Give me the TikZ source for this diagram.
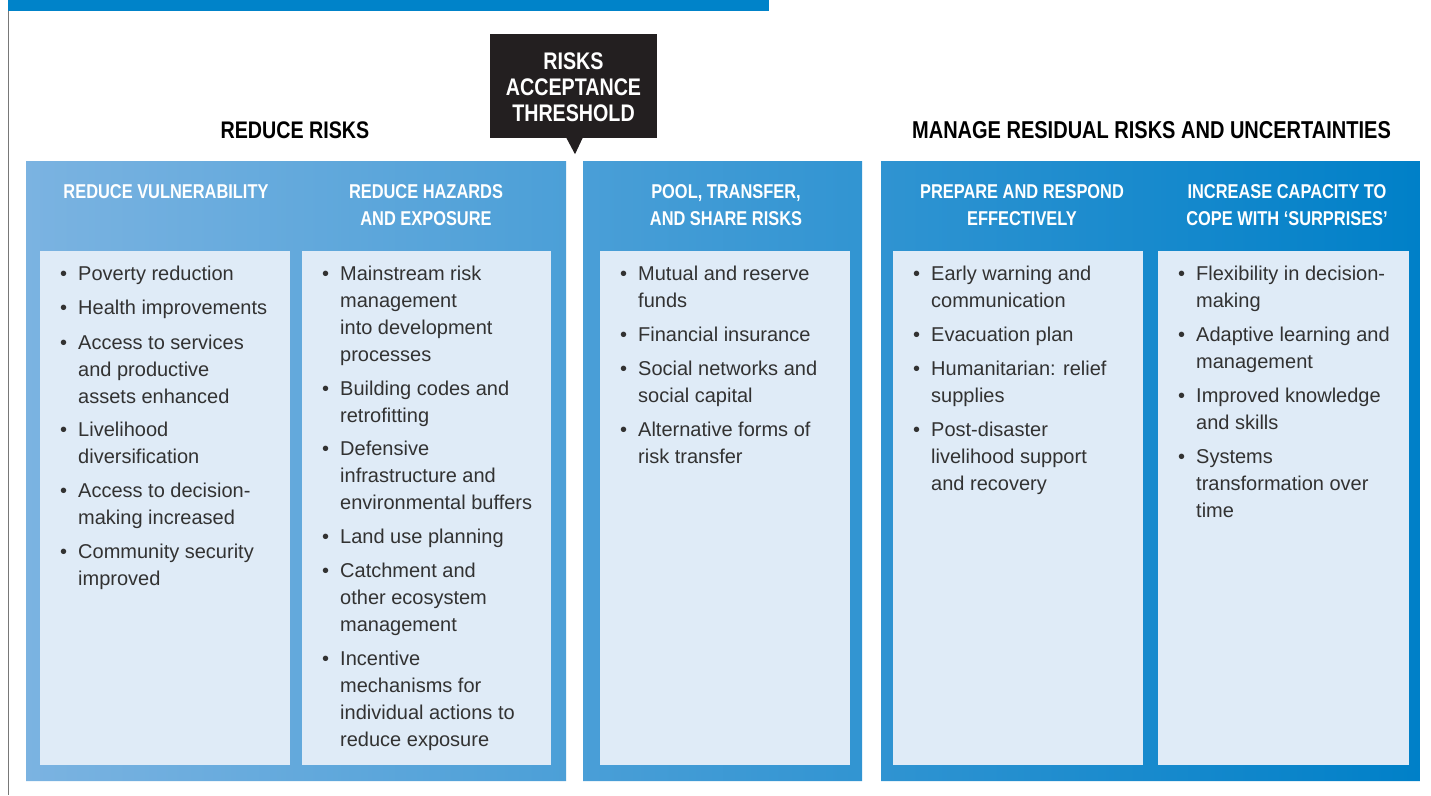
\documentclass[tikz,border=0pt]{standalone}
\usepackage{fontspec}
\setmainfont{Liberation Sans}
\newfontfamily\condfont[FakeStretch=0.82]{Liberation Sans}
\usetikzlibrary{calc}
\definecolor{topblue}{RGB}{0,131,201}
\definecolor{gradL}{RGB}{123,179,225}
\definecolor{gradR}{RGB}{0,128,200}
\definecolor{boxfill}{RGB}{223,235,247}
\definecolor{txt}{RGB}{50,50,50}
\definecolor{callout}{RGB}{35,31,32}
\definecolor{edgegray}{RGB}{120,120,120}
\tikzset{
  itemtext/.style={inner sep=0pt, anchor=base west, text=txt, font=\fontsize{20}{27}\selectfont},
  bulletdot/.style={inner sep=0pt, anchor=base west, text=txt, font=\fontsize{20}{27}\selectfont},
  colhead/.style={inner sep=0pt, anchor=base, text=white, font=\condfont\bfseries\fontsize{20}{27}\selectfont},
  mainhead/.style={inner sep=0pt, anchor=base, text=black, font=\condfont\bfseries\fontsize{24}{26}\selectfont},
  inbox/.style={fill=boxfill, draw=none},
}
\newcommand\bul[4]{%
  \node[bulletdot] (#1d) at (#2+20,#3+7) {\textbullet};
  \node[itemtext] (#1) at (#2+38,#3+7) {\parbox[t]{235pt}{\raggedright #4}};
}
\begin{document}
\begin{tikzpicture}[x=1pt,y=-1pt]
\useasboundingbox (0,0) rectangle (1431,795);
\fill[white] (0,0) rectangle (1431,795);
% frame line and top bar
\draw[edgegray, line width=1.2pt] (8.5,0) -- (8.5,795);
\fill[topblue] (8,0) rectangle (769,11);
% panels with continuous gradient
\begin{scope}
  \clip (26,161) rectangle (566,781)
        (583,161) rectangle (862,781)
        (881,161) rectangle (1420,781);
  \shade[left color=gradL, right color=gradR] (26,161) rectangle (1420,781);
\end{scope}
% inner boxes
\fill[inbox] (40,251) rectangle (290,765);
\fill[inbox] (302,251) rectangle (551,765);
\fill[inbox] (600,251) rectangle (850,765);
\fill[inbox] (893,251) rectangle (1143,765);
\fill[inbox] (1158,251) rectangle (1409,765);
% callout
\node[fill=callout, minimum width=167pt, minimum height=104pt, inner sep=0pt] (thresh) at (573.5,86) {};
\fill[callout] ($(thresh.south)+(-7.5,-1)$) -- ($(thresh.south)+(1.5,16)$) -- ($(thresh.south)+(9.5,-1)$) -- cycle;
\node[mainhead, text=white] (threshtxt) at (573.5,69.6) {\parbox[t]{160pt}{\centering RISKS\\ACCEPTANCE\\THRESHOLD}};
% main headers
\node[mainhead] (hreduce) at (295,138.6) {REDUCE RISKS};
\node[mainhead, font=\condfont\bfseries\fontsize{24.4}{26}\selectfont] (hmanage) at (1151.5,138.6) {MANAGE RESIDUAL RISKS AND UNCERTAINTIES};
% column headers
\node[colhead] (c1) at (166,198.2) {\parbox[t]{260pt}{\centering REDUCE VULNERABILITY}};
\node[colhead] (c2) at (426,198.2) {\parbox[t]{260pt}{\centering REDUCE HAZARDS\\AND EXPOSURE}};
\node[colhead] (c3) at (726,198.2) {\parbox[t]{260pt}{\centering POOL, TRANSFER,\\AND SHARE RISKS}};
\node[colhead] (c4) at (1022,198.2) {\parbox[t]{260pt}{\centering PREPARE AND RESPOND\\EFFECTIVELY}};
\node[colhead] (c5) at (1287,198.2) {\parbox[t]{260pt}{\centering INCREASE CAPACITY TO\\COPE WITH ‘SURPRISES’}};
% column 1
\bul{a1}{40}{273}{Poverty reduction}
\bul{a2}{40}{307}{Health improvements}
\bul{a3}{40}{342}{Access to services\\and productive\\assets enhanced}
\bul{a4}{40}{429}{Livelihood\\diversification}
\bul{a5}{40}{490}{Access to decision-\\making increased}
\bul{a6}{40}{551}{Community security\\improved}
% column 2
\bul{b1}{302}{273}{Mainstream risk\\management\\into development\\processes}
\bul{b2}{302}{388}{Building codes and\\retrofitting}
\bul{b3}{302}{448}{Defensive\\infrastructure and\\environmental buffers}
\bul{b4}{302}{536}{Land use planning}
\bul{b5}{302}{570}{Catchment and\\other ecosystem\\management}
\bul{b6}{302}{658}{Incentive\\mechanisms for\\individual actions to\\reduce exposure}
% column 3
\bul{p1}{600}{273}{Mutual and reserve\\funds}
\bul{p2}{600}{334}{Financial insurance}
\bul{p3}{600}{368}{Social networks and\\social capital}
\bul{p4}{600}{429}{Alternative forms of\\risk transfer}
% column 4
\bul{e1}{893}{273}{Early warning and\\communication}
\bul{e2}{893}{334}{Evacuation plan}
\bul{e3}{893}{368}{Humanitarian: relief\\supplies}
\bul{e4}{893}{429}{Post-disaster\\livelihood support\\and recovery}
% column 5
\bul{s1}{1158}{273}{Flexibility in decision-\\making}
\bul{s2}{1158}{334}{Adaptive learning and\\management}
\bul{s3}{1158}{395}{Improved knowledge\\and skills}
\bul{s4}{1158}{456}{Systems\\transformation over\\time}
\end{tikzpicture}
\end{document}
